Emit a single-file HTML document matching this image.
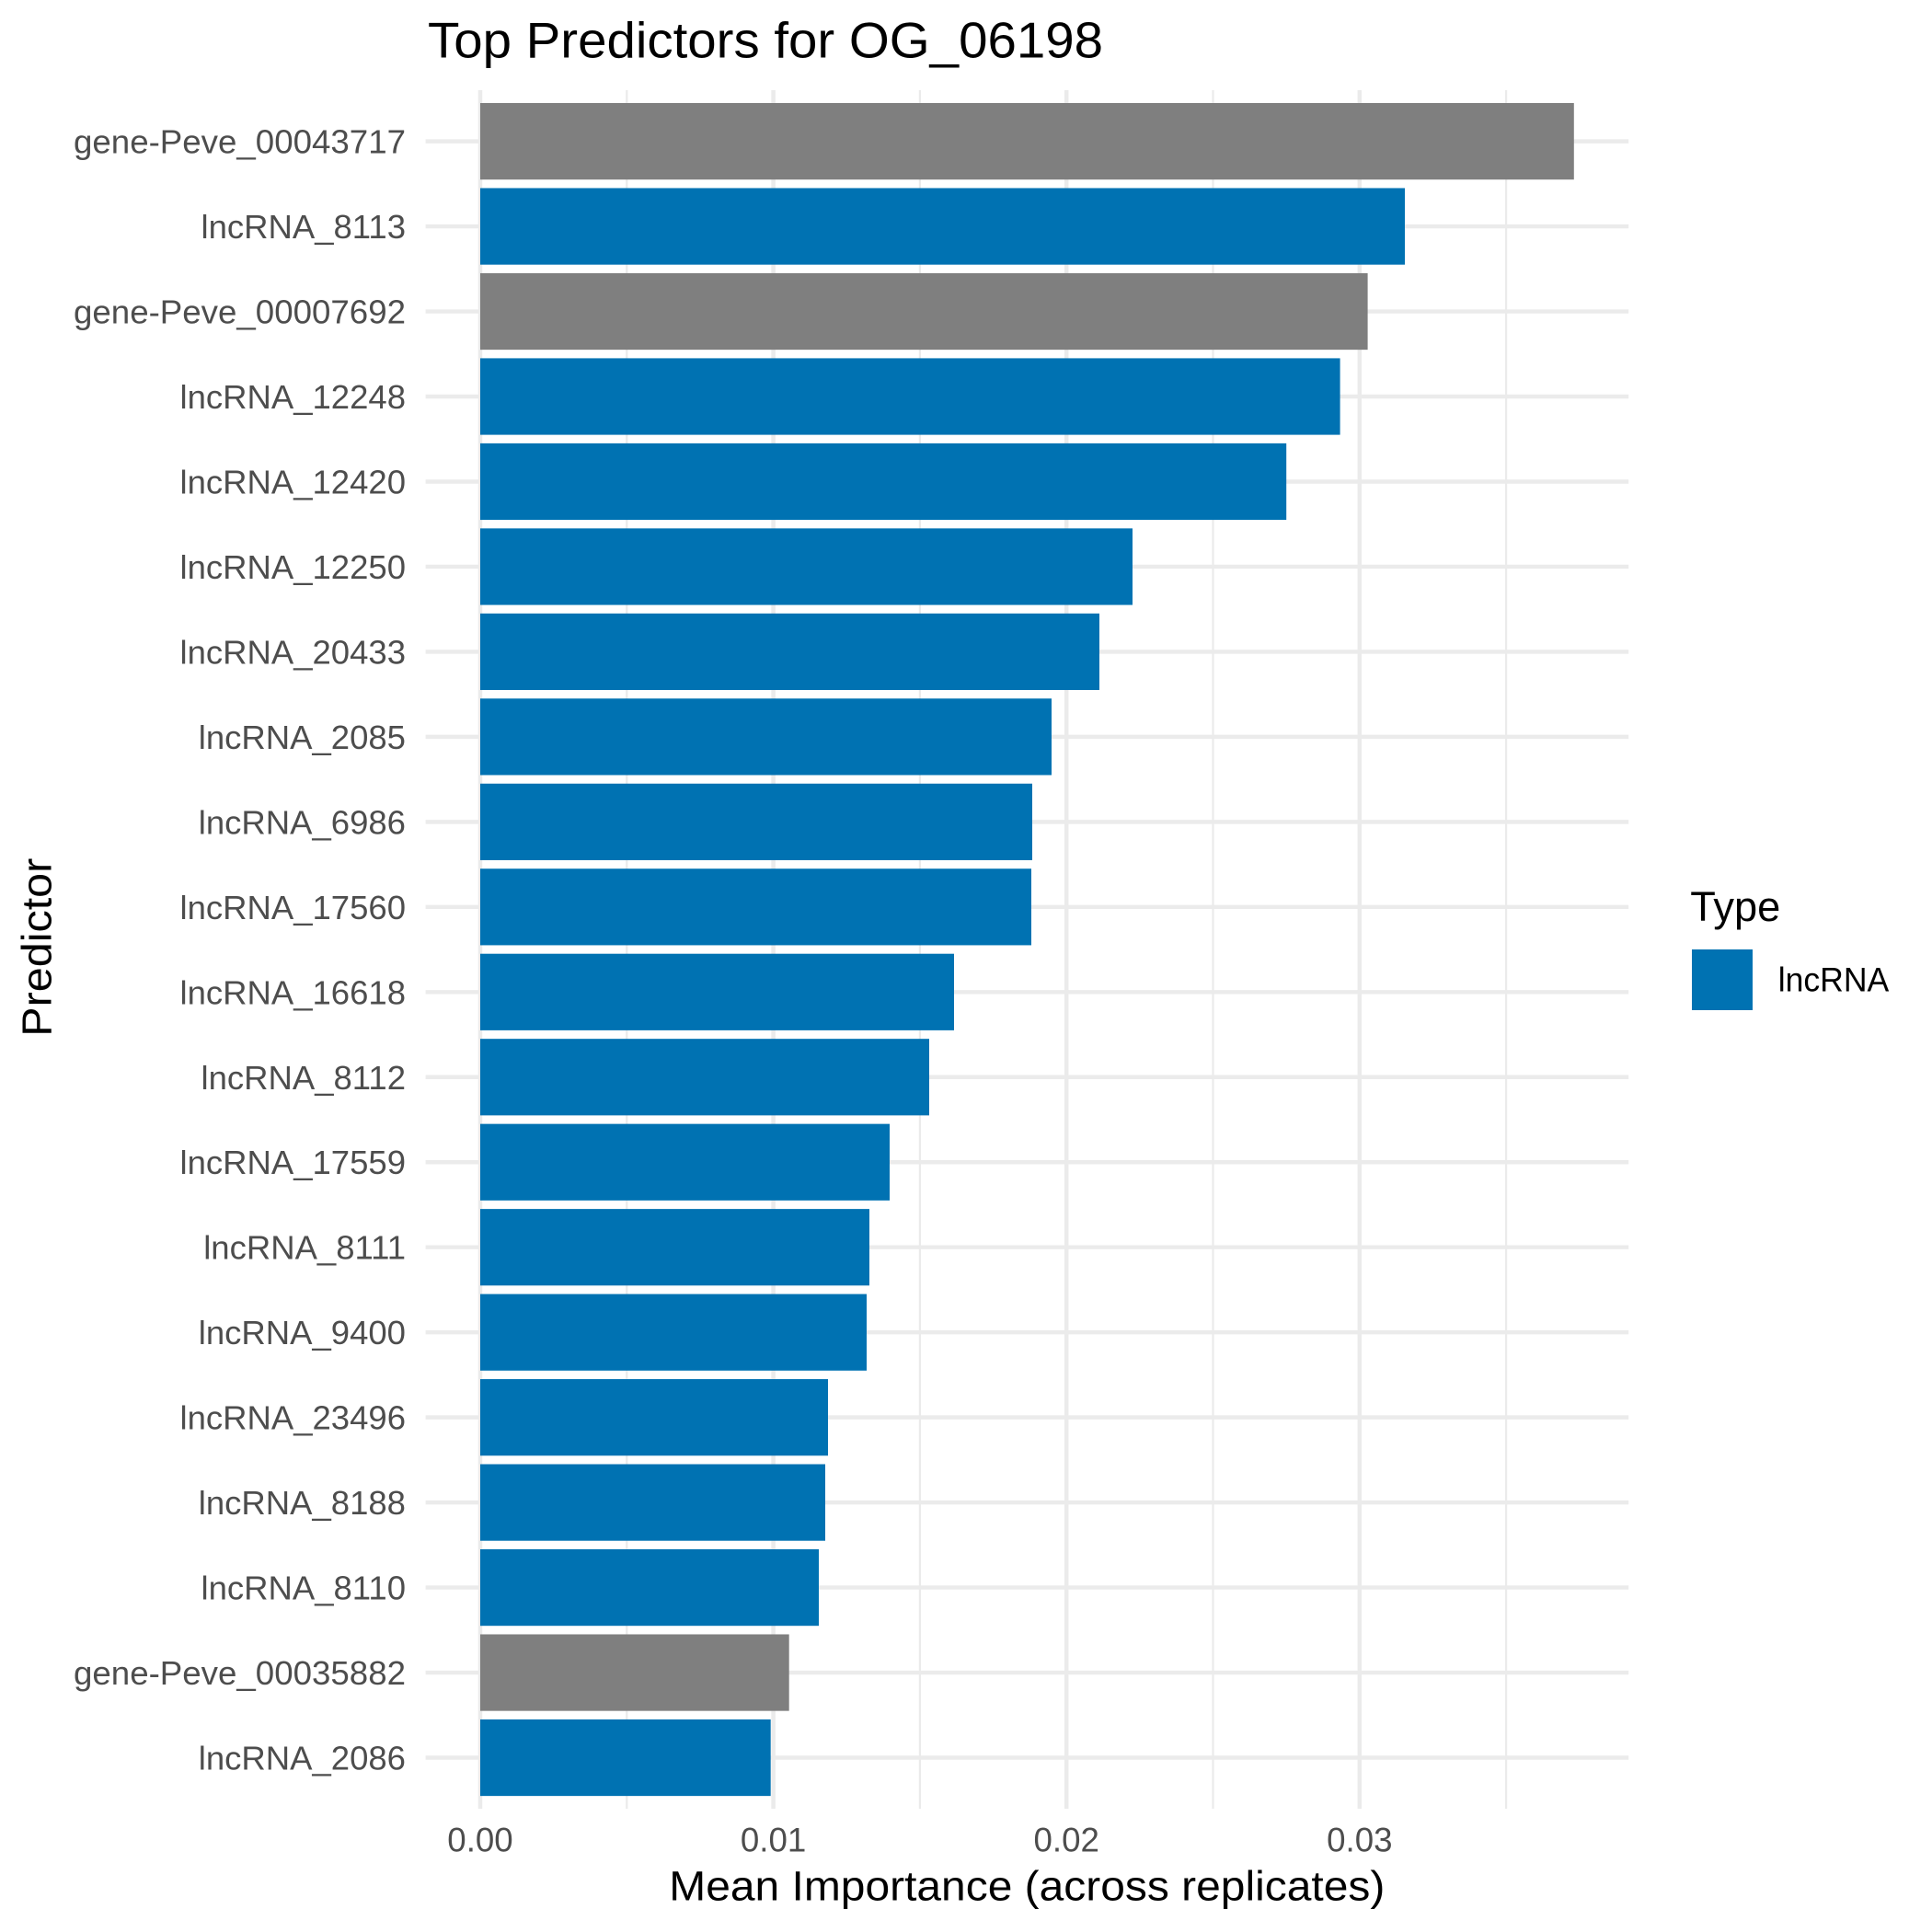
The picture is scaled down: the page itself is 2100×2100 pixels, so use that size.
<!DOCTYPE html>
<html>
<head>
<meta charset="utf-8">
<style>
  html, body { margin: 0; padding: 0; background: #ffffff; }
  svg { display: block; }
  text { font-family: "Liberation Sans", "DejaVu Sans", sans-serif; }
</style>
</head>
<body>
<svg width="2100" height="2100" viewBox="0 0 2100 2100" xmlns="http://www.w3.org/2000/svg">
  <rect x="0" y="0" width="2100" height="2100" fill="#ffffff"/>

  <!-- minor vertical gridlines -->
  <g stroke="#EBEBEB" stroke-width="2.22">
    <line x1="681.3" y1="98" x2="681.3" y2="1966"/>
    <line x1="999.9" y1="98" x2="999.9" y2="1966"/>
    <line x1="1318.5" y1="98" x2="1318.5" y2="1966"/>
    <line x1="1637.1" y1="98" x2="1637.1" y2="1966"/>
  </g>
  <!-- major vertical gridlines -->
  <g stroke="#EBEBEB" stroke-width="4.44">
    <line x1="522" y1="98" x2="522" y2="1966"/>
    <line x1="840.6" y1="98" x2="840.6" y2="1966"/>
    <line x1="1159.2" y1="98" x2="1159.2" y2="1966"/>
    <line x1="1477.8" y1="98" x2="1477.8" y2="1966"/>
  </g>
  <!-- major horizontal gridlines -->
  <g stroke="#EBEBEB" stroke-width="4.44">
    <line x1="462.6" y1="153.6" x2="1770.2" y2="153.6"/>
    <line x1="462.6" y1="246.07" x2="1770.2" y2="246.07"/>
    <line x1="462.6" y1="338.54" x2="1770.2" y2="338.54"/>
    <line x1="462.6" y1="431.01" x2="1770.2" y2="431.01"/>
    <line x1="462.6" y1="523.48" x2="1770.2" y2="523.48"/>
    <line x1="462.6" y1="615.95" x2="1770.2" y2="615.95"/>
    <line x1="462.6" y1="708.42" x2="1770.2" y2="708.42"/>
    <line x1="462.6" y1="800.89" x2="1770.2" y2="800.89"/>
    <line x1="462.6" y1="893.36" x2="1770.2" y2="893.36"/>
    <line x1="462.6" y1="985.83" x2="1770.2" y2="985.83"/>
    <line x1="462.6" y1="1078.3" x2="1770.2" y2="1078.3"/>
    <line x1="462.6" y1="1170.77" x2="1770.2" y2="1170.77"/>
    <line x1="462.6" y1="1263.24" x2="1770.2" y2="1263.24"/>
    <line x1="462.6" y1="1355.71" x2="1770.2" y2="1355.71"/>
    <line x1="462.6" y1="1448.18" x2="1770.2" y2="1448.18"/>
    <line x1="462.6" y1="1540.65" x2="1770.2" y2="1540.65"/>
    <line x1="462.6" y1="1633.12" x2="1770.2" y2="1633.12"/>
    <line x1="462.6" y1="1725.59" x2="1770.2" y2="1725.59"/>
    <line x1="462.6" y1="1818.06" x2="1770.2" y2="1818.06"/>
    <line x1="462.6" y1="1910.53" x2="1770.2" y2="1910.53"/>
  </g>

  <!-- bars -->
  <g>
    <rect x="522" y="112.0" width="1188.8" height="83.2" fill="#7F7F7F"/>
    <rect x="522" y="204.47" width="1005" height="83.2" fill="#0072B2"/>
    <rect x="522" y="296.94" width="964.6" height="83.2" fill="#7F7F7F"/>
    <rect x="522" y="389.41" width="934.6" height="83.2" fill="#0072B2"/>
    <rect x="522" y="481.88" width="876.2" height="83.2" fill="#0072B2"/>
    <rect x="522" y="574.35" width="709" height="83.2" fill="#0072B2"/>
    <rect x="522" y="666.82" width="673" height="83.2" fill="#0072B2"/>
    <rect x="522" y="759.29" width="621" height="83.2" fill="#0072B2"/>
    <rect x="522" y="851.76" width="600" height="83.2" fill="#0072B2"/>
    <rect x="522" y="944.23" width="599" height="83.2" fill="#0072B2"/>
    <rect x="522" y="1036.7" width="515" height="83.2" fill="#0072B2"/>
    <rect x="522" y="1129.17" width="488" height="83.2" fill="#0072B2"/>
    <rect x="522" y="1221.64" width="445" height="83.2" fill="#0072B2"/>
    <rect x="522" y="1314.11" width="423" height="83.2" fill="#0072B2"/>
    <rect x="522" y="1406.58" width="420" height="83.2" fill="#0072B2"/>
    <rect x="522" y="1499.05" width="378" height="83.2" fill="#0072B2"/>
    <rect x="522" y="1591.52" width="375" height="83.2" fill="#0072B2"/>
    <rect x="522" y="1683.99" width="368" height="83.2" fill="#0072B2"/>
    <rect x="522" y="1776.46" width="335.7" height="83.2" fill="#7F7F7F"/>
    <rect x="522" y="1868.93" width="315.7" height="83.2" fill="#0072B2"/>
  </g>

  <!-- y-axis labels -->
  <g font-size="36.5" fill="#4D4D4D" text-anchor="end">
    <text x="441" y="166.6" textLength="361" lengthAdjust="spacingAndGlyphs">gene-Peve_00043717</text>
    <text x="441" y="259.07">lncRNA_8113</text>
    <text x="441" y="351.54" textLength="361" lengthAdjust="spacingAndGlyphs">gene-Peve_00007692</text>
    <text x="441" y="444.01">lncRNA_12248</text>
    <text x="441" y="536.48">lncRNA_12420</text>
    <text x="441" y="628.95">lncRNA_12250</text>
    <text x="441" y="721.42">lncRNA_20433</text>
    <text x="441" y="813.89">lncRNA_2085</text>
    <text x="441" y="906.36">lncRNA_6986</text>
    <text x="441" y="998.83">lncRNA_17560</text>
    <text x="441" y="1091.3">lncRNA_16618</text>
    <text x="441" y="1183.77">lncRNA_8112</text>
    <text x="441" y="1276.24">lncRNA_17559</text>
    <text x="441" y="1368.71">lncRNA_8111</text>
    <text x="441" y="1461.18">lncRNA_9400</text>
    <text x="441" y="1553.65">lncRNA_23496</text>
    <text x="441" y="1646.12">lncRNA_8188</text>
    <text x="441" y="1738.59">lncRNA_8110</text>
    <text x="441" y="1831.06" textLength="361" lengthAdjust="spacingAndGlyphs">gene-Peve_00035882</text>
    <text x="441" y="1923.53">lncRNA_2086</text>
  </g>

  <!-- x-axis tick labels -->
  <g font-size="36.7" fill="#4D4D4D" text-anchor="middle">
    <text x="522" y="2012.3">0.00</text>
    <text x="840.6" y="2012.3">0.01</text>
    <text x="1159.2" y="2012.3">0.02</text>
    <text x="1477.8" y="2012.3">0.03</text>
  </g>

  <!-- axis titles -->
  <text x="727.3" y="2065.7" font-size="45.8" fill="#000000" textLength="778" lengthAdjust="spacingAndGlyphs">Mean Importance (across replicates)</text>
  <text transform="translate(55.7,1126.7) rotate(-90)" x="0" y="0" font-size="45.8" fill="#000000" textLength="194" lengthAdjust="spacingAndGlyphs">Predictor</text>

  <!-- title -->
  <text x="465" y="62.3" font-size="55" fill="#000000" textLength="734" lengthAdjust="spacingAndGlyphs">Top Predictors for OG_06198</text>

  <!-- legend -->
  <text x="1837.3" y="1001" font-size="45.8" fill="#000000" textLength="98" lengthAdjust="spacingAndGlyphs">Type</text>
  <rect x="1839" y="1032" width="66" height="66" fill="#0072B2"/>
  <text x="1932.7" y="1077.7" font-size="36.7" fill="#000000" textLength="120.6" lengthAdjust="spacingAndGlyphs">lncRNA</text>
</svg>
</body>
</html>
